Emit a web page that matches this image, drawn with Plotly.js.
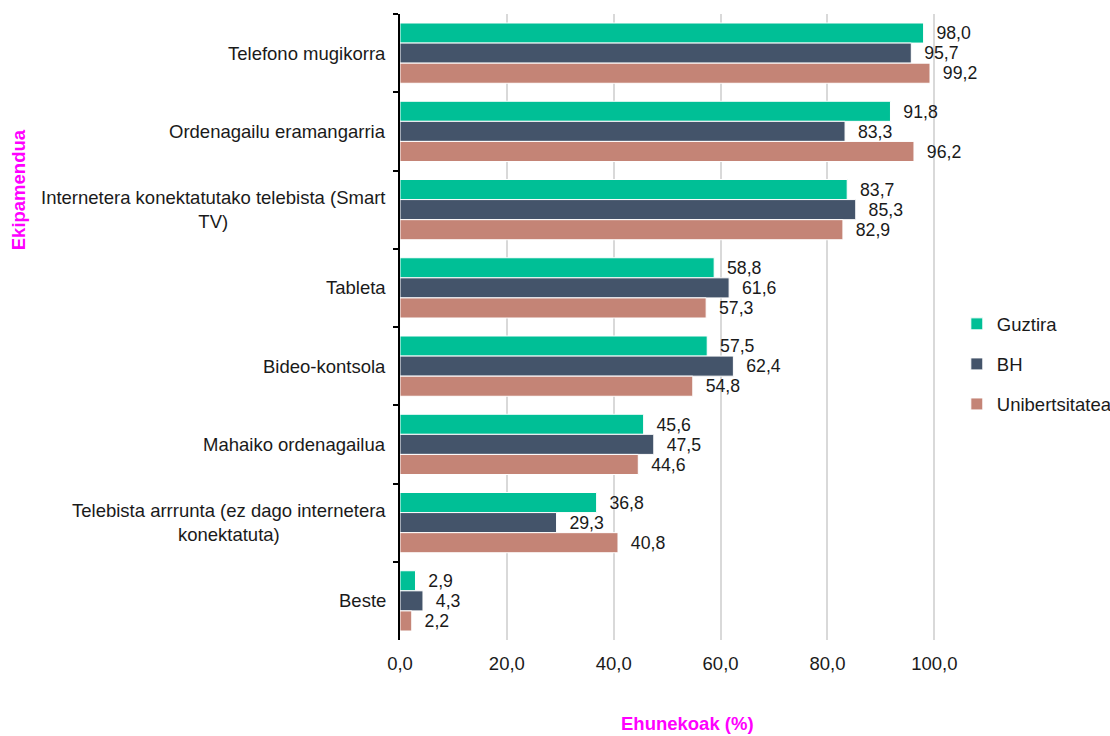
<!DOCTYPE html>
<html>
<head>
<meta charset="utf-8">
<script src="https://cdn.plot.ly/plotly-3.0.1.min.js"></script>
<style>
  body { margin: 0; background: #fff; }
  #chart { width: 1110px; height: 736px; }
</style>
</head>
<body>
<div id="chart"></div>
<script>
var categories = [
  'Telefono mugikorra',
  'Ordenagailu eramangarria',
  'Internetera konektatutako telebista (Smart TV)',
  'Tableta',
  'Bideo-kontsola',
  'Mahaiko ordenagailua',
  'Telebista arrrunta (ez dago internetera konektatuta)',
  'Beste'
];

var categoryLabels = [
  'Telefono mugikorra',
  'Ordenagailu eramangarria',
  'Internetera konektatutako telebista (Smart<br>TV)',
  'Tableta',
  'Bideo-kontsola',
  'Mahaiko ordenagailua',
  'Telebista arrrunta (ez dago internetera<br>konektatuta)',
  'Beste'
];

var guztira = [98.0, 91.8, 83.7, 58.8, 57.5, 45.6, 36.8, 2.9];
var bh = [95.7, 83.3, 85.3, 61.6, 62.4, 47.5, 29.3, 4.3];
var unibertsitatea = [99.2, 96.2, 82.9, 57.3, 54.8, 44.6, 40.8, 2.2];

var xTicks = [0, 20, 40, 60, 80, 100];

var FONT = 'Liberation Sans, Arial, sans-serif';

function serie(name, values, color) {
  return {
    type: 'bar',
    orientation: 'h',
    name: name,
    legendgroup: name,
    y: categories,
    x: values,
    marker: { color: color, line: { color: '#ffffff', width: 1 } },
    texttemplate: '\u00a0\u00a0%{x:.1f}',
    textposition: 'outside',
    cliponaxis: false,
    textfont: { family: FONT, size: 18.5, color: '#1a1a1a' },
    hoverinfo: 'skip'
  };
}

var data = [
  serie('Guztira', guztira, '#00bf96'),
  serie('BH', bh, '#44546a'),
  serie('Unibertsitatea', unibertsitatea, '#c48476')
];

// category labels drawn as annotations so wrapped lines stay centred
var labelNotes = categories.map(function (c, i) {
  return {
    text: categoryLabels[i],
    xref: 'paper', yref: 'y',
    x: 0, y: c,
    xanchor: 'right', yanchor: 'middle',
    xshift: -12,
    align: 'center',
    showarrow: false,
    font: { family: FONT, size: 18.5, color: '#1a1a1a' }
  };
});

var layout = {
  width: 1110,
  height: 736,
  margin: { l: 400, r: 149, t: 14, b: 96, autoexpand: false },
  paper_bgcolor: '#ffffff',
  plot_bgcolor: '#ffffff',
  font: { family: FONT, size: 18.5, color: '#1a1a1a' },
  separators: ',.',
  barmode: 'group',
  bargap: 0.23,
  bargroupgap: 0,
  showlegend: true,
  legend: {
    xref: 'container', yref: 'container',
    x: 0.862, xanchor: 'left',
    y: 0.505, yanchor: 'middle',
    traceorder: 'grouped',
    tracegroupgap: 13,
    itemwidth: 30,
    font: { size: 18.5, color: '#1a1a1a' }
  },
  xaxis: {
    range: [0, 105],
    tickvals: xTicks,
    tickformat: '.1f',
    showgrid: true,
    gridcolor: '#d9d9d9',
    gridwidth: 2,
    zeroline: false,
    showline: false,
    ticks: '',
    ticklabelstandoff: 10,
    tickfont: { size: 18.5 }
  },
  yaxis: {
    autorange: 'reversed',
    showline: true,
    linecolor: '#000000',
    linewidth: 2,
    ticks: 'outside',
    tickson: 'boundaries',
    ticklen: 5,
    tickwidth: 2,
    tickcolor: '#000000',
    showticklabels: false
  },
  annotations: labelNotes.concat([
    {
      text: '<b>Ekipamendua</b>',
      xref: 'paper', yref: 'paper',
      x: -0.681, y: 0.72,
      xanchor: 'center', yanchor: 'middle',
      textangle: -90,
      showarrow: false,
      font: { size: 18.5, color: '#ff00ff' }
    },
    {
      text: '<b>Ehunekoak (%)</b>',
      xref: 'paper', yref: 'paper',
      x: 0.512, y: -0.133,
      xanchor: 'center', yanchor: 'middle',
      showarrow: false,
      font: { size: 18.5, color: '#ff00ff' }
    }
  ])
};

Plotly.newPlot('chart', data, layout, { displayModeBar: false, staticPlot: true });
</script>
</body>
</html>
